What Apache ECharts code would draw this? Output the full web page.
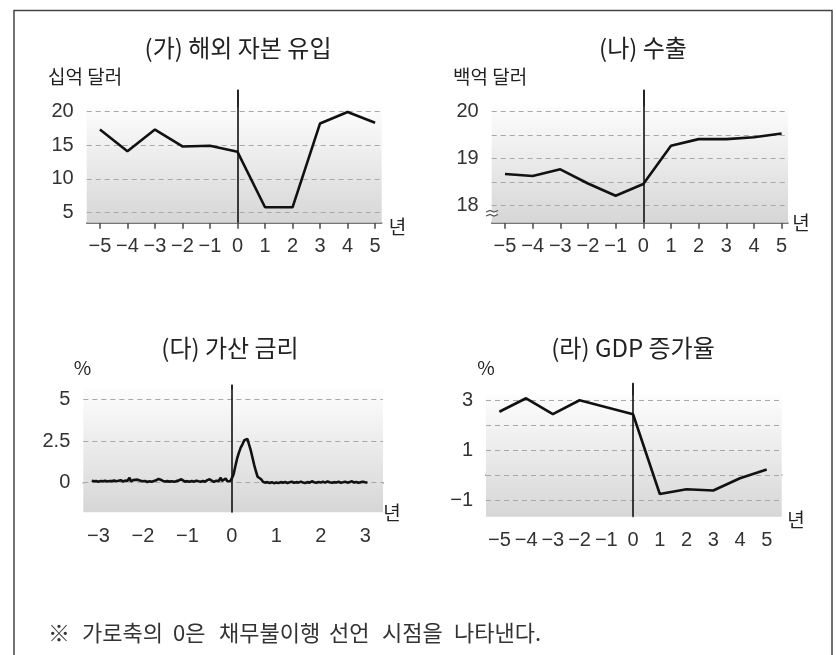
<!DOCTYPE html>
<html>
<head>
<meta charset="utf-8">
<script src="https://cdn.jsdelivr.net/npm/echarts@6/dist/echarts.min.js"></script>
<style>
html,body{margin:0;padding:0;background:#fff;}
#chart{width:836px;height:655px;}
</style>
</head>
<body>
<div id="chart"></div>
<script>
// ---- data ----
const years = [-5, -4, -3, -2, -1, 0, 1, 2, 3, 4, 5];
const capitalInflow = [17.3, 14.1, 17.3, 14.8, 14.9, 14.0, 5.8, 5.8, 18.2, 19.9, 18.3];
const exportsVal = [18.67, 18.63, 18.77, 18.47, 18.21, 18.46, 19.27, 19.41, 19.41, 19.45, 19.53];
const gdpGrowth = [2.54, 3.08, 2.44, 3.0, 2.72, 2.44, -0.76, -0.57, -0.62, -0.13, 0.22];
const spreadX = [-3.15,-3.10,-3.05,-3.00,-2.95,-2.90,-2.85,-2.80,-2.75,-2.70,-2.65,-2.60,-2.55,-2.50,-2.45,-2.40,-2.35,-2.30,-2.27,-2.22,-2.18,-2.12,-2.05,-2.00,-1.95,-1.90,-1.85,-1.80,-1.75,-1.70,-1.65,-1.60,-1.55,-1.50,-1.45,-1.40,-1.35,-1.30,-1.25,-1.20,-1.15,-1.10,-1.05,-1.00,-0.95,-0.90,-0.85,-0.80,-0.75,-0.70,-0.65,-0.60,-0.55,-0.50,-0.45,-0.40,-0.35,-0.30,-0.25,-0.22,-0.18,-0.14,-0.10,-0.06,-0.03,0.00,0.04,0.08,0.12,0.16,0.20,0.24,0.28,0.32,0.35,0.38,0.42,0.46,0.50,0.54,0.58,0.62,0.66,0.70,0.75,0.80,0.85,0.90,0.95,1.00,1.05,1.10,1.15,1.20,1.25,1.30,1.35,1.40,1.45,1.50,1.55,1.60,1.65,1.70,1.75,1.80,1.85,1.90,1.95,2.00,2.05,2.10,2.15,2.20,2.25,2.30,2.35,2.40,2.45,2.50,2.55,2.60,2.65,2.70,2.75,2.80,2.85,2.90,2.95,3.00,3.05,3.10,3.15];
const spreadY = [0.12,0.08,0.10,0.06,0.10,0.08,0.12,0.07,0.10,0.09,0.13,0.08,0.11,0.15,0.07,0.12,0.10,0.30,0.08,0.15,0.22,0.18,0.12,0.08,0.10,0.04,0.08,0.05,0.10,0.14,0.22,0.18,0.10,0.07,0.09,0.06,0.08,0.05,0.09,0.12,0.20,0.14,0.06,0.09,0.05,0.10,0.06,0.12,0.08,0.05,0.10,0.06,0.15,0.20,0.12,0.05,0.12,0.08,0.30,0.10,0.12,0.25,0.08,0.15,0.10,0.25,0.50,1.00,1.45,1.80,2.10,2.30,2.55,2.65,2.62,2.35,2.00,1.55,1.10,0.70,0.35,0.25,0.20,0.05,0.00,0.03,-0.02,0.02,-0.03,0.01,-0.02,0.03,0.00,0.04,-0.02,0.02,0.05,-0.01,0.03,0.00,0.06,0.01,-0.02,0.03,0.00,0.08,0.02,-0.01,0.04,0.01,0.05,0.00,0.07,0.02,-0.01,0.03,0.01,0.05,-0.01,0.02,0.06,0.00,0.03,0.08,0.01,0.04,-0.01,0.03,0.05,0.02,0.00];

// ---- tick labels ----
const yearTicks = [-5, -4, -3, -2, -1, 0, 1, 2, 3, 4, 5];
const spreadYearTicks = [-3, -2, -1, 0, 1, 2, 3];
const capitalGrid = [5, 10, 15, 20];
const capitalLabels = [5, 10, 15, 20];
const exportsGrid = [18, 18.5, 19, 19.5, 20];
const exportsLabels = [18, 19, 20];
const spreadGrid = [0, 2.5, 5];
const spreadLabels = [0, 2.5, 5];
const gdpGrid = [-1, 0, 1, 2, 3];
const gdpLabels = [-1, 1, 3];

const titles = ['(가) 해외 자본 유입', '(나) 수출', '(다) 가산 금리', '(라) GDP 증가율'];
const units = ['십억 달러', '백억 달러', '%', '%'];
const xUnit = '년';
const footnoteWords = ['※', '가로축의', '0은', '채무불이행', '선언', '시점을', '나타낸다.'];

const chart = echarts.init(document.getElementById('chart'));
const NUM_FONT = "'Liberation Sans', Arial, sans-serif";
const KR_FONT = "'Noto Sans CJK KR', 'Noto Sans', sans-serif";
const fmt = v => (v < 0 ? '\u2212' + Math.abs(v) : String(v));

const grids = [
  {left: 86.7, top: 90, width: 295, height: 132.7},
  {left: 491.7, top: 90, width: 296.3, height: 132.7},
  {left: 83.3, top: 385, width: 299.7, height: 127.3},
  {left: 486, top: 383.3, width: 295.7, height: 133.4}
];
const xRanges = [[-5.48, 5.24], [-5.48, 5.23], [-3.34, 3.40], [-5.5, 5.56]];
const yRanges = [[3.52, 23.15], [17.64, 20.45], [-1.78, 5.86], [-1.67, 3.68]];
const shadeTops = [20.6, 20.1, 5.6, 3.2];
const xTickSets = [yearTicks, yearTicks, spreadYearTicks, yearTicks];
const yGridSets = [capitalGrid, exportsGrid, spreadGrid, gdpGrid];
const yLabelSets = [capitalLabels, exportsLabels, spreadLabels, gdpLabels];

const axisLine = {show: true, lineStyle: {color: '#4a4a4a', width: 1.5}};

const xAxes = grids.map((g, i) => ({
  type: 'value', gridIndex: i, min: xRanges[i][0], max: xRanges[i][1],
  axisLine: axisLine,
  axisTick: {show: true, customValues: xTickSets[i], length: 6, lineStyle: {color: '#4a4a4a', width: 1.5}},
  axisLabel: {customValues: xTickSets[i], formatter: fmt, margin: 14, fontSize: 20, color: '#333', fontFamily: NUM_FONT},
  splitLine: {show: false}
}));
const yAxes = grids.map((g, i) => ({
  type: 'value', gridIndex: i, min: yRanges[i][0], max: yRanges[i][1],
  axisLine: axisLine,
  axisTick: {show: true, customValues: yGridSets[i], length: 6, lineStyle: {color: '#4a4a4a', width: 1.5}},
  axisLabel: {customValues: yLabelSets[i], formatter: fmt, margin: 13, fontSize: 20, color: '#333', fontFamily: NUM_FONT},
  splitLine: {show: false}
}));

const seriesData = [
  years.map((x, k) => [x, capitalInflow[k]]),
  years.map((x, k) => [x, exportsVal[k]]),
  spreadX.map((x, k) => [x, spreadY[k]]),
  years.map((x, k) => [x, gdpGrowth[k]])
];

const shade = () => new echarts.graphic.LinearGradient(0, 0, 0, 1, [
  {offset: 0, color: '#fdfdfd'}, {offset: 1, color: '#d6d6d6'}
]);

const series = seriesData.map((d, i) => ({
  type: 'line', xAxisIndex: i, yAxisIndex: i, data: d,
  symbol: 'none', smooth: false, z: 5,
  lineStyle: {color: '#111', width: 2.6},
  markArea: {
    silent: true,
    itemStyle: {color: shade()},
    data: [[{yAxis: shadeTops[i]}, {yAxis: yRanges[i][0]}]]
  },
  markLine: {
    silent: true, symbol: 'none', label: {show: false},
    animation: false,
    data: yGridSets[i].map(v => ({yAxis: v, lineStyle: {color: '#a8a8a8', type: [5, 4], width: 1}}))
      .concat([{xAxis: 0, lineStyle: {color: '#111', type: 'solid', width: 1.6}}])
  }
}));

const txt = (text, x, y, size, align, color) => ({
  type: 'text', x: x, y: y, z: 10,
  style: {text: text, fontSize: size, fontFamily: KR_FONT, fill: color || '#222', align: align || 'center', verticalAlign: 'middle'}
});

const footX = [48, 82, 173, 219, 329, 382, 454];

const graphic = [
  {type: 'polyline', shape: {points: [[14, 660], [14, 10.5], [832, 10.5], [832, 660]]}, style: {stroke: '#444', lineWidth: 1.5, fill: null}},
  txt(titles[0], 238, 48, 24),
  txt(titles[1], 643, 48, 24),
  txt(titles[2], 230, 348, 24),
  txt(titles[3], 633, 348, 24),
  txt(units[0], 48, 77, 19, 'left'),
  txt(units[1], 453, 77, 19, 'left'),
  txt(units[2], 82.5, 368, 19),
  txt(units[3], 486, 368, 19),
  txt(xUnit, 397.5, 227, 19),
  txt(xUnit, 801, 223, 19),
  txt(xUnit, 392, 513, 19),
  txt(xUnit, 796, 520, 19),
  // axis break mark on (나)
  {type: 'rect', z: 9, shape: {x: 488, y: 211, width: 8, height: 5}, style: {fill: '#fff'}},
  {type: 'polyline', z: 10, shape: {points: [[486, 212], [490, 210.5], [494, 212], [498, 210.5]]}, style: {stroke: '#555', lineWidth: 1.2, fill: null}},
  {type: 'polyline', z: 10, shape: {points: [[486, 216], [490, 214.5], [494, 216], [498, 214.5]]}, style: {stroke: '#555', lineWidth: 1.2, fill: null}}
].concat(footnoteWords.map((w, k) => txt(w, footX[k], 633, 22, 'left', '#333')));

chart.setOption({
  animation: false,
  backgroundColor: '#fff',
  grid: grids,
  xAxis: xAxes,
  yAxis: yAxes,
  series: series,
  graphic: graphic
});
</script>
</body>
</html>
